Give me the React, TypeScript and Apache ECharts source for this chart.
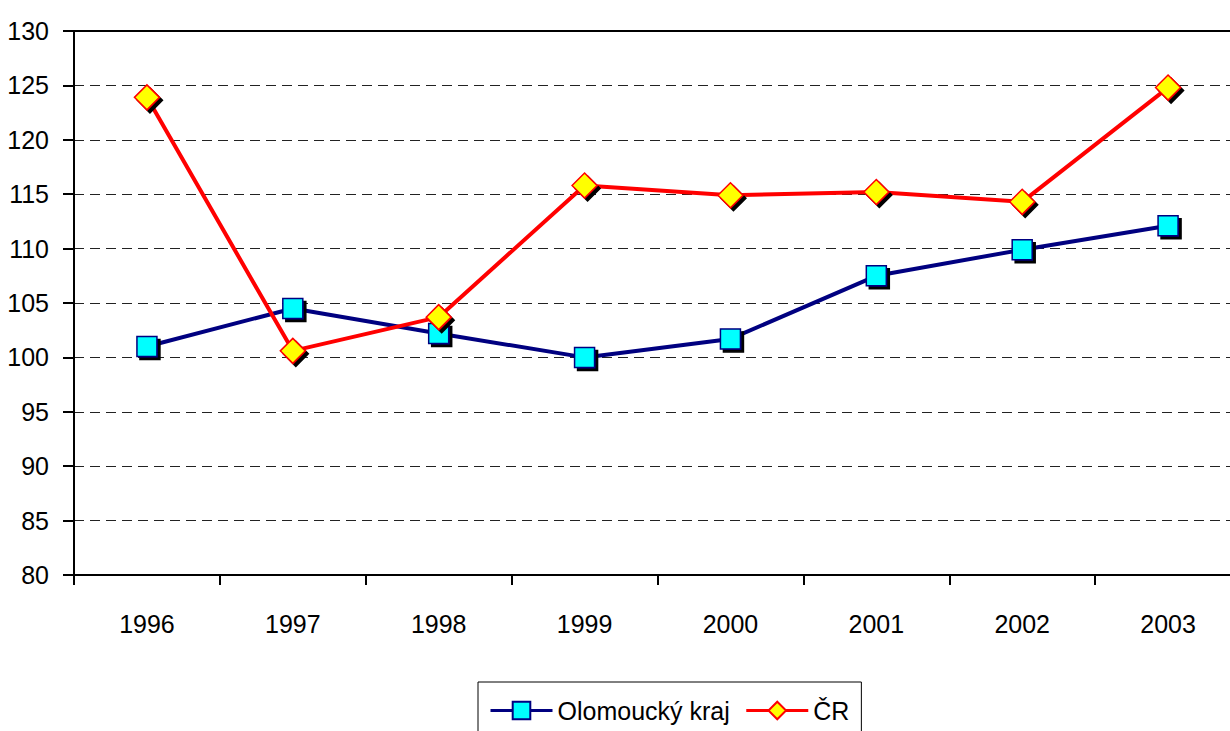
import React, { useEffect, useRef } from "react";
import * as echarts from "echarts";

const years = ["1996", "1997", "1998", "1999", "2000", "2001", "2002", "2003"];
const olomoucky = [101.0, 104.5, 102.2, 100.0, 101.7, 107.5, 109.9, 112.1];
const cr = [123.9, 100.6, 103.7, 115.8, 114.9, 115.2, 114.3, 124.8];
const seriesNames = ["Olomoucký kraj", "ČR"];

const FONT = "'Liberation Sans', Arial, sans-serif";

export default function App() {
  const ref = useRef<HTMLDivElement>(null);
  useEffect(() => {
    if (!ref.current) return;
    const chart = echarts.init(ref.current, undefined, { renderer: "svg" });
    const shadow = { shadowColor: "#000", shadowOffsetX: 3, shadowOffsetY: 3, shadowBlur: 0.1 };
    chart.setOption({
      animation: false,
      backgroundColor: "#fff",
      textStyle: { fontFamily: FONT },
      grid: { left: 74, top: 31, width: 1167, height: 544, containLabel: false },
      legend: {
        left: 478,
        top: 682,
        padding: [16, 12, 30, 11],
        borderColor: "#000",
        borderWidth: 1,
        itemWidth: 62,
        itemHeight: 22,
        itemGap: 15,
        lineStyle: { width: 3 },
        itemStyle: { shadowBlur: 0, shadowOffsetX: 0, shadowOffsetY: 0, shadowColor: "transparent" },
        textStyle: { fontFamily: FONT, fontSize: 25, color: "#000" },
        data: seriesNames,
      },
      xAxis: [
        {
          type: "category",
          data: years,
          boundaryGap: true,
          axisLine: { lineStyle: { color: "#000", width: 2 } },
          axisTick: { show: true, length: 10, lineStyle: { color: "#000", width: 2 } },
          axisLabel: { color: "#000", fontSize: 25, fontFamily: FONT, margin: 36 },
          splitLine: { show: false },
        },
        {
          type: "category",
          data: years,
          position: "top",
          axisLine: { show: true, lineStyle: { color: "#000", width: 2 } },
          axisTick: { show: false },
          axisLabel: { show: false },
        },
      ],
      yAxis: {
        type: "value",
        min: 80,
        max: 130,
        interval: 5,
        axisLine: { show: true, lineStyle: { color: "#000", width: 2 } },
        axisTick: { show: true, length: 11, lineStyle: { color: "#000", width: 2 } },
        axisLabel: { color: "#000", fontSize: 25, fontFamily: FONT, margin: 25 },
        splitLine: { show: true, lineStyle: { color: "#222", width: 1, type: [10, 6] } },
      },
      series: [
        {
          name: seriesNames[0],
          type: "line",
          data: olomoucky,
          symbol: "rect",
          symbolSize: 20,
          lineStyle: { color: "#000080", width: 4 },
          itemStyle: { color: "#00FFFF", borderColor: "#000080", borderWidth: 1.5, ...shadow },
        },
        {
          name: seriesNames[1],
          type: "line",
          data: cr,
          symbol: "diamond",
          symbolSize: 25,
          lineStyle: { color: "#FF0000", width: 4 },
          itemStyle: { color: "#FFFF00", borderColor: "#FF0000", borderWidth: 1.5, ...shadow },
        },
      ],
    });
    return () => chart.dispose();
  }, []);
  return (
    <div style={{ position: "fixed", left: 0, top: 0, width: 1230, height: 731, overflow: "hidden", background: "#fff" }}>
      <div ref={ref} style={{ width: 1260, height: 731 }} />
    </div>
  );
}
